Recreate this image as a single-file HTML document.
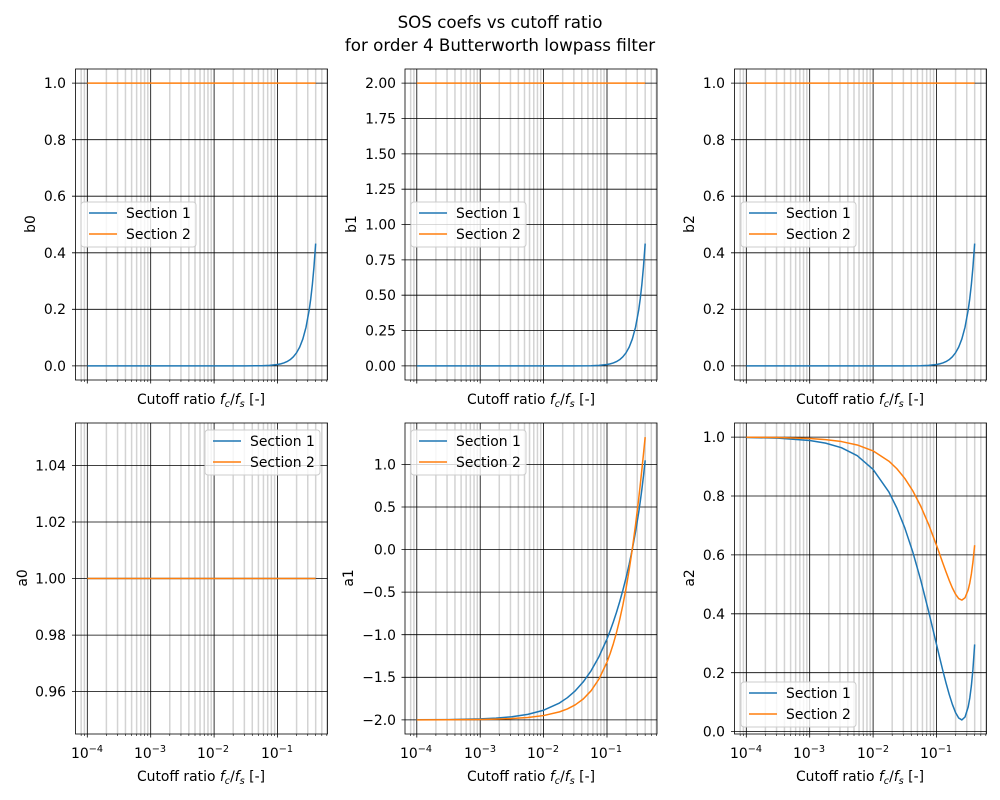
<!DOCTYPE html>
<html><head><meta charset="utf-8"><style>
html,body{margin:0;padding:0;background:#fff;}
svg{display:block;font-family:"DejaVu Sans","Liberation Sans",sans-serif;}
</style></head><body>
<svg width="1000" height="800" xmlns="http://www.w3.org/2000/svg" xmlns:xlink="http://www.w3.org/1999/xlink">
<defs>
<g id="vg">
<g stroke="#d3d3d3" stroke-width="1.5">
<line x1="-6.14" x2="-6.14" y1="0" y2="311"/><line x1="-2.9" x2="-2.9" y1="0" y2="311"/>
<line x1="19.09" x2="19.09" y1="0" y2="311"/><line x1="30.25" x2="30.25" y1="0" y2="311"/><line x1="38.17" x2="38.17" y1="0" y2="311"/><line x1="44.31" x2="44.31" y1="0" y2="311"/><line x1="49.33" x2="49.33" y1="0" y2="311"/><line x1="53.58" x2="53.58" y1="0" y2="311"/><line x1="57.26" x2="57.26" y1="0" y2="311"/><line x1="60.5" x2="60.5" y1="0" y2="311"/>
<line x1="82.49" x2="82.49" y1="0" y2="311"/><line x1="93.65" x2="93.65" y1="0" y2="311"/><line x1="101.57" x2="101.57" y1="0" y2="311"/><line x1="107.71" x2="107.71" y1="0" y2="311"/><line x1="112.73" x2="112.73" y1="0" y2="311"/><line x1="116.98" x2="116.98" y1="0" y2="311"/><line x1="120.66" x2="120.66" y1="0" y2="311"/><line x1="123.9" x2="123.9" y1="0" y2="311"/>
<line x1="145.89" x2="145.89" y1="0" y2="311"/><line x1="157.05" x2="157.05" y1="0" y2="311"/><line x1="164.97" x2="164.97" y1="0" y2="311"/><line x1="171.11" x2="171.11" y1="0" y2="311"/><line x1="176.13" x2="176.13" y1="0" y2="311"/><line x1="180.38" x2="180.38" y1="0" y2="311"/><line x1="184.06" x2="184.06" y1="0" y2="311"/><line x1="187.3" x2="187.3" y1="0" y2="311"/>
<line x1="209.29" x2="209.29" y1="0" y2="311"/><line x1="220.45" x2="220.45" y1="0" y2="311"/><line x1="228.37" x2="228.37" y1="0" y2="311"/><line x1="234.51" x2="234.51" y1="0" y2="311"/><line x1="239.53" x2="239.53" y1="0" y2="311"/>
</g>
<g stroke="#000" stroke-width="0.6">
<line x1="-6.14" x2="-6.14" y1="311" y2="313"/><line x1="-2.9" x2="-2.9" y1="311" y2="313"/>
<line x1="19.09" x2="19.09" y1="311" y2="313"/><line x1="30.25" x2="30.25" y1="311" y2="313"/><line x1="38.17" x2="38.17" y1="311" y2="313"/><line x1="44.31" x2="44.31" y1="311" y2="313"/><line x1="49.33" x2="49.33" y1="311" y2="313"/><line x1="53.58" x2="53.58" y1="311" y2="313"/><line x1="57.26" x2="57.26" y1="311" y2="313"/><line x1="60.5" x2="60.5" y1="311" y2="313"/>
<line x1="82.49" x2="82.49" y1="311" y2="313"/><line x1="93.65" x2="93.65" y1="311" y2="313"/><line x1="101.57" x2="101.57" y1="311" y2="313"/><line x1="107.71" x2="107.71" y1="311" y2="313"/><line x1="112.73" x2="112.73" y1="311" y2="313"/><line x1="116.98" x2="116.98" y1="311" y2="313"/><line x1="120.66" x2="120.66" y1="311" y2="313"/><line x1="123.9" x2="123.9" y1="311" y2="313"/>
<line x1="145.89" x2="145.89" y1="311" y2="313"/><line x1="157.05" x2="157.05" y1="311" y2="313"/><line x1="164.97" x2="164.97" y1="311" y2="313"/><line x1="171.11" x2="171.11" y1="311" y2="313"/><line x1="176.13" x2="176.13" y1="311" y2="313"/><line x1="180.38" x2="180.38" y1="311" y2="313"/><line x1="184.06" x2="184.06" y1="311" y2="313"/><line x1="187.3" x2="187.3" y1="311" y2="313"/>
<line x1="209.29" x2="209.29" y1="311" y2="313"/><line x1="220.45" x2="220.45" y1="311" y2="313"/><line x1="228.37" x2="228.37" y1="311" y2="313"/><line x1="234.51" x2="234.51" y1="311" y2="313"/><line x1="239.53" x2="239.53" y1="311" y2="313"/>
</g>
<g stroke="#000" stroke-width="0.8">
<line x1="0" x2="0" y1="0" y2="314.5"/><line x1="63.4" x2="63.4" y1="0" y2="314.5"/><line x1="126.8" x2="126.8" y1="0" y2="314.5"/><line x1="190.2" x2="190.2" y1="0" y2="314.5"/>
</g>
</g>
</defs>
<rect width="1000" height="800" fill="#fff"/>

<use xlink:href="#vg" href="#vg" transform="translate(87.3,69)"/>
<use xlink:href="#vg" href="#vg" transform="translate(416.8,69)"/>
<use xlink:href="#vg" href="#vg" transform="translate(746.3,69)"/>
<use xlink:href="#vg" href="#vg" transform="translate(87.3,423)"/>
<use xlink:href="#vg" href="#vg" transform="translate(416.8,423)"/>
<use xlink:href="#vg" href="#vg" transform="translate(746.3,423)"/>

<g stroke="#000" stroke-width="0.8">
<g id="hb0">
<line x1="72" x2="327.5" y1="365.9" y2="365.9"/><line x1="72" x2="327.5" y1="309.3" y2="309.3"/><line x1="72" x2="327.5" y1="252.8" y2="252.8"/><line x1="72" x2="327.5" y1="196.2" y2="196.2"/><line x1="72" x2="327.5" y1="139.7" y2="139.7"/><line x1="72" x2="327.5" y1="83.1" y2="83.1"/>
</g>
<use xlink:href="#hb0" href="#hb0" transform="translate(659,0)"/>
<line x1="401.5" x2="657" y1="365.9" y2="365.9"/><line x1="401.5" x2="657" y1="330.5" y2="330.5"/><line x1="401.5" x2="657" y1="295.2" y2="295.2"/><line x1="401.5" x2="657" y1="259.9" y2="259.9"/><line x1="401.5" x2="657" y1="224.5" y2="224.5"/><line x1="401.5" x2="657" y1="189.2" y2="189.2"/><line x1="401.5" x2="657" y1="153.9" y2="153.9"/><line x1="401.5" x2="657" y1="118.5" y2="118.5"/><line x1="401.5" x2="657" y1="83.1" y2="83.1"/>
<line x1="72" x2="327.5" y1="691.6" y2="691.6"/><line x1="72" x2="327.5" y1="635.1" y2="635.1"/><line x1="72" x2="327.5" y1="578.5" y2="578.5"/><line x1="72" x2="327.5" y1="522" y2="522"/><line x1="72" x2="327.5" y1="465.4" y2="465.4"/>
<line x1="401.5" x2="657" y1="719.9" y2="719.9"/><line x1="401.5" x2="657" y1="677.3" y2="677.3"/><line x1="401.5" x2="657" y1="634.7" y2="634.7"/><line x1="401.5" x2="657" y1="592.1" y2="592.1"/><line x1="401.5" x2="657" y1="549.6" y2="549.6"/><line x1="401.5" x2="657" y1="507" y2="507"/><line x1="401.5" x2="657" y1="464.4" y2="464.4"/>
<line x1="731" x2="986.5" y1="731.6" y2="731.6"/><line x1="731" x2="986.5" y1="672.7" y2="672.7"/><line x1="731" x2="986.5" y1="613.8" y2="613.8"/><line x1="731" x2="986.5" y1="554.9" y2="554.9"/><line x1="731" x2="986.5" y1="496" y2="496"/><line x1="731" x2="986.5" y1="437.1" y2="437.1"/>
</g>

<g fill="none" stroke-width="1.5" stroke-linejoin="round">
<g id="bcurves">
<polyline stroke="#1f77b4" points="87.3,365.9 214.1,365.9 245.8,365.88 261.65,365.72 269.58,365.40 277.5,364.54 280.67,363.89 283.84,362.94 287.01,361.58 290.18,359.63 293.35,356.83 296.52,352.82 299.69,347.11 302.86,338.92 306.03,327.14 309.2,310.01 310.79,298.47 312.37,284.44 313.95,267.10 315.67,243.53"/>
<polyline stroke="#ff7f0e" points="87.3,83.1 315.67,83.1"/>
</g>
<use xlink:href="#bcurves" href="#bcurves" transform="translate(329.5,0)"/>
<use xlink:href="#bcurves" href="#bcurves" transform="translate(659,0)"/>
<polyline stroke="#1f77b4" points="87.3,578.5 315.67,578.5"/>
<polyline stroke="#ff7f0e" points="87.3,578.5 315.67,578.5"/>
<polyline stroke="#1f77b4" transform="translate(329.5,0)" points="87.3,719.80 119,719.57 150.7,718.90 166.55,718.13 182.4,716.78 198.25,714.40 214.1,710.23 229.95,703.02 237.88,697.69 245.8,690.79 253.73,681.93 261.65,670.66 269.58,656.49 277.5,638.88 280.67,630.72 283.84,621.86 287.01,612.23 290.18,601.76 293.35,590.35 296.52,577.85 299.69,564.16 302.86,548.92 306.03,531.84 309.2,512.36 310.79,501.33 312.37,489.40 313.95,476.24 315.67,460.32"/>
<polyline stroke="#ff7f0e" transform="translate(329.5,0)" points="87.3,719.84 119,719.77 150.7,719.47 166.55,719.15 182.4,718.56 198.25,717.50 214.1,715.56 229.95,711.89 237.88,708.94 245.8,704.81 253.73,698.97 261.65,690.68 269.58,678.87 277.5,662.06 280.67,653.52 283.84,643.72 287.01,632.50 290.18,619.69 293.35,605.10 296.52,588.51 299.69,569.80 302.86,548.65 306.03,525.00 309.2,498.70 310.79,484.42 312.37,469.61 313.95,454.24 315.67,437.13"/>
<polyline stroke="#1f77b4" transform="translate(659,0)" points="87.3,437.44 119,438.18 150.7,440.48 166.55,443.12 182.4,447.71 198.25,455.71 214.1,469.39 229.95,492.11 237.88,508.13 245.8,527.95 253.73,551.83 261.65,579.77 269.58,611.13 277.5,644.39 280.67,657.67 283.84,670.62 287.01,682.95 290.18,694.33 293.35,704.33 296.52,712.45 299.69,717.96 302.86,719.94 306.03,716.99 309.2,706.91 310.79,698.02 312.37,685.78 313.95,669.10 315.67,644.43"/>
<polyline stroke="#ff7f0e" transform="translate(659,0)" points="87.3,437.24 119,437.55 150.7,438.51 166.55,439.61 182.4,441.55 198.25,444.96 214.1,450.92 229.95,461.20 237.88,468.76 245.8,478.46 253.73,490.74 261.65,505.97 269.58,524.27 277.5,545.31 280.67,554.14 283.84,563.09 287.01,571.89 290.18,580.28 293.35,587.86 296.52,594.16 299.69,598.52 302.86,600.11 306.03,597.75 309.2,589.85 310.79,583.05 312.37,573.95 313.95,562.03 315.67,545.18"/>
</g>

<g fill="none" stroke="#000" stroke-width="0.8">
<rect x="75.5" y="69" width="252" height="311"/>
<rect x="405" y="69" width="252" height="311"/>
<rect x="734.5" y="69" width="252" height="311"/>
<rect x="75.5" y="423" width="252" height="311"/>
<rect x="405" y="423" width="252" height="311"/>
<rect x="734.5" y="423" width="252" height="311"/>
</g>

<g font-size="16.7" text-anchor="middle" fill="#000">
<text x="500" y="28">SOS coefs vs cutoff ratio</text>
<text x="500" y="51">for order 4 Butterworth lowpass filter</text>
</g>
<g font-size="13.9" text-anchor="end" fill="#000">
<text x="66" y="371">0.0</text><text x="66" y="314">0.2</text><text x="66" y="258">0.4</text><text x="66" y="201">0.6</text><text x="66" y="145">0.8</text><text x="66" y="88">1.0</text>
<text x="396" y="371">0.00</text><text x="396" y="335.5">0.25</text><text x="396" y="300">0.50</text><text x="396" y="265">0.75</text><text x="396" y="229.5">1.00</text><text x="396" y="194">1.25</text><text x="396" y="159">1.50</text><text x="396" y="123.5">1.75</text><text x="396" y="88">2.00</text>
<text x="725" y="371">0.0</text><text x="725" y="314">0.2</text><text x="725" y="258">0.4</text><text x="725" y="201">0.6</text><text x="725" y="145">0.8</text><text x="725" y="88">1.0</text>
<text x="66" y="696.5">0.96</text><text x="66" y="640">0.98</text><text x="66" y="583.5">1.00</text><text x="66" y="527">1.02</text><text x="66" y="470.5">1.04</text>
<text x="396" y="725">−2.0</text><text x="396" y="682">−1.5</text><text x="396" y="640">−1.0</text><text x="396" y="597">−0.5</text><text x="396" y="554.5">0.0</text><text x="396" y="512">0.5</text><text x="396" y="469.5">1.0</text>
<text x="725" y="736.5">0.0</text><text x="725" y="678">0.2</text><text x="725" y="619">0.4</text><text x="725" y="560">0.6</text><text x="725" y="501">0.8</text><text x="725" y="442">1.0</text>
</g>
<g font-size="13.9" text-anchor="middle" fill="#000">
<text transform="translate(35,224) rotate(-90)">b0</text>
<text transform="translate(356,224) rotate(-90)">b1</text>
<text transform="translate(694,224) rotate(-90)">b2</text>
<text transform="translate(27,578) rotate(-90)">a0</text>
<text transform="translate(353,578) rotate(-90)">a1</text>
<text transform="translate(694,578) rotate(-90)">a2</text>
<text x="201" y="404">Cutoff ratio <tspan font-style="italic">f</tspan><tspan font-style="italic" font-size="9.7" dy="3">c</tspan><tspan dy="-3">/</tspan><tspan font-style="italic">f</tspan><tspan font-style="italic" font-size="9.7" dy="3">s</tspan><tspan dy="-3"> [-]</tspan></text>
<text x="531" y="404">Cutoff ratio <tspan font-style="italic">f</tspan><tspan font-style="italic" font-size="9.7" dy="3">c</tspan><tspan dy="-3">/</tspan><tspan font-style="italic">f</tspan><tspan font-style="italic" font-size="9.7" dy="3">s</tspan><tspan dy="-3"> [-]</tspan></text>
<text x="860" y="404">Cutoff ratio <tspan font-style="italic">f</tspan><tspan font-style="italic" font-size="9.7" dy="3">c</tspan><tspan dy="-3">/</tspan><tspan font-style="italic">f</tspan><tspan font-style="italic" font-size="9.7" dy="3">s</tspan><tspan dy="-3"> [-]</tspan></text>
<text x="201" y="781">Cutoff ratio <tspan font-style="italic">f</tspan><tspan font-style="italic" font-size="9.7" dy="3">c</tspan><tspan dy="-3">/</tspan><tspan font-style="italic">f</tspan><tspan font-style="italic" font-size="9.7" dy="3">s</tspan><tspan dy="-3"> [-]</tspan></text>
<text x="531" y="781">Cutoff ratio <tspan font-style="italic">f</tspan><tspan font-style="italic" font-size="9.7" dy="3">c</tspan><tspan dy="-3">/</tspan><tspan font-style="italic">f</tspan><tspan font-style="italic" font-size="9.7" dy="3">s</tspan><tspan dy="-3"> [-]</tspan></text>
<text x="860" y="781">Cutoff ratio <tspan font-style="italic">f</tspan><tspan font-style="italic" font-size="9.7" dy="3">c</tspan><tspan dy="-3">/</tspan><tspan font-style="italic">f</tspan><tspan font-style="italic" font-size="9.7" dy="3">s</tspan><tspan dy="-3"> [-]</tspan></text>
</g>
<g font-size="13.9" text-anchor="middle" fill="#000">
<text x="87" y="758">10<tspan font-size="9.7" dy="-6">−4</tspan></text>
<text x="150" y="758">10<tspan font-size="9.7" dy="-6">−3</tspan></text>
<text x="213" y="758">10<tspan font-size="9.7" dy="-6">−2</tspan></text>
<text x="277" y="758">10<tspan font-size="9.7" dy="-6">−1</tspan></text>
<text x="416" y="758">10<tspan font-size="9.7" dy="-6">−4</tspan></text>
<text x="480" y="758">10<tspan font-size="9.7" dy="-6">−3</tspan></text>
<text x="543" y="758">10<tspan font-size="9.7" dy="-6">−2</tspan></text>
<text x="606" y="758">10<tspan font-size="9.7" dy="-6">−1</tspan></text>
<text x="746" y="758">10<tspan font-size="9.7" dy="-6">−4</tspan></text>
<text x="809" y="758">10<tspan font-size="9.7" dy="-6">−3</tspan></text>
<text x="873" y="758">10<tspan font-size="9.7" dy="-6">−2</tspan></text>
<text x="936" y="758">10<tspan font-size="9.7" dy="-6">−1</tspan></text>
</g>
<g font-size="13.9" fill="#000">
<g transform="translate(81,202)"><rect x="0" y="0" width="115" height="45" rx="3" fill="#fff" fill-opacity="0.8" stroke="#ccc"/><line x1="8" y1="11" x2="36" y2="11" stroke="#1f77b4" stroke-width="1.5"/><text x="45" y="16">Section 1</text><line x1="8" y1="32" x2="36" y2="32" stroke="#ff7f0e" stroke-width="1.5"/><text x="45" y="37">Section 2</text></g>
<g transform="translate(411,202)"><rect x="0" y="0" width="115" height="45" rx="3" fill="#fff" fill-opacity="0.8" stroke="#ccc"/><line x1="8" y1="11" x2="36" y2="11" stroke="#1f77b4" stroke-width="1.5"/><text x="45" y="16">Section 1</text><line x1="8" y1="32" x2="36" y2="32" stroke="#ff7f0e" stroke-width="1.5"/><text x="45" y="37">Section 2</text></g>
<g transform="translate(741,202)"><rect x="0" y="0" width="115" height="45" rx="3" fill="#fff" fill-opacity="0.8" stroke="#ccc"/><line x1="8" y1="11" x2="36" y2="11" stroke="#1f77b4" stroke-width="1.5"/><text x="45" y="16">Section 1</text><line x1="8" y1="32" x2="36" y2="32" stroke="#ff7f0e" stroke-width="1.5"/><text x="45" y="37">Section 2</text></g>
<g transform="translate(205,430)"><rect x="0" y="0" width="115" height="45" rx="3" fill="#fff" fill-opacity="0.8" stroke="#ccc"/><line x1="8" y1="11" x2="36" y2="11" stroke="#1f77b4" stroke-width="1.5"/><text x="45" y="16">Section 1</text><line x1="8" y1="32" x2="36" y2="32" stroke="#ff7f0e" stroke-width="1.5"/><text x="45" y="37">Section 2</text></g>
<g transform="translate(411,430)"><rect x="0" y="0" width="115" height="45" rx="3" fill="#fff" fill-opacity="0.8" stroke="#ccc"/><line x1="8" y1="11" x2="36" y2="11" stroke="#1f77b4" stroke-width="1.5"/><text x="45" y="16">Section 1</text><line x1="8" y1="32" x2="36" y2="32" stroke="#ff7f0e" stroke-width="1.5"/><text x="45" y="37">Section 2</text></g>
<g transform="translate(741,682)"><rect x="0" y="0" width="115" height="45" rx="3" fill="#fff" fill-opacity="0.8" stroke="#ccc"/><line x1="8" y1="11" x2="36" y2="11" stroke="#1f77b4" stroke-width="1.5"/><text x="45" y="16">Section 1</text><line x1="8" y1="32" x2="36" y2="32" stroke="#ff7f0e" stroke-width="1.5"/><text x="45" y="37">Section 2</text></g>
</g>
</svg>
</body></html>
